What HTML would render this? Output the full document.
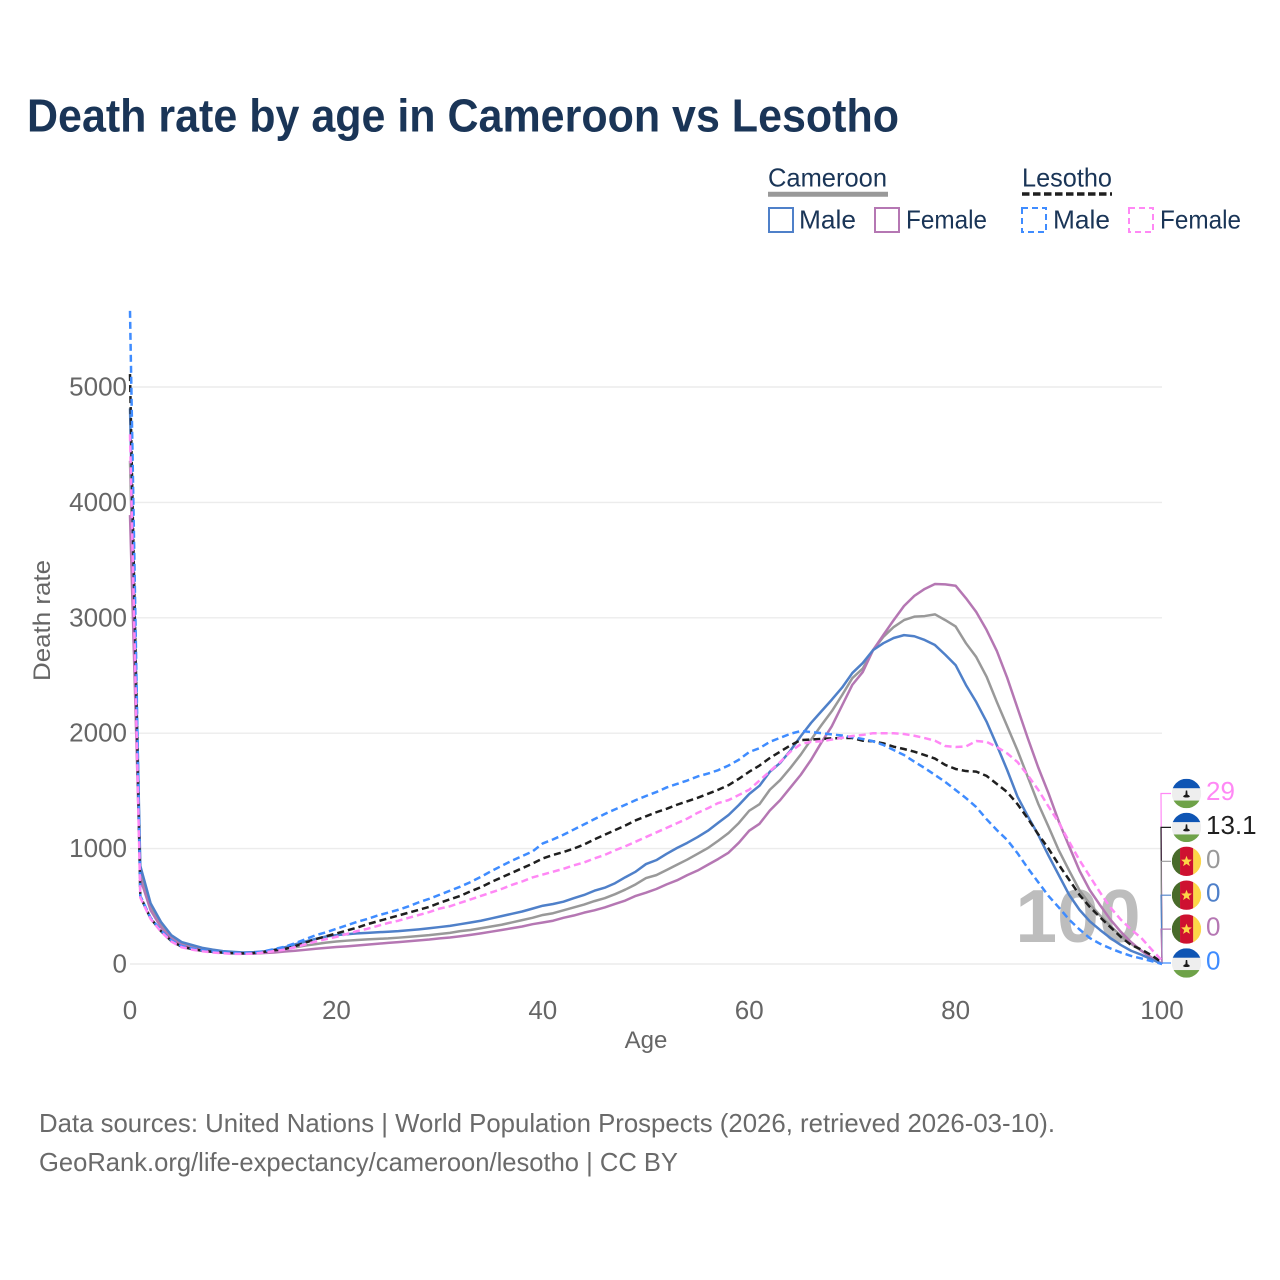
<!DOCTYPE html>
<html lang="en">
<head>
<meta charset="utf-8">
<title>Death rate by age in Cameroon vs Lesotho</title>
<style>
html,body{margin:0;padding:0;background:#fff;}
svg{display:block;font-family:"Liberation Sans",sans-serif;}
</style>
</head>
<body>
<svg id="chart" xmlns="http://www.w3.org/2000/svg" width="1280" height="1280" viewBox="0 0 1280 1280">
  <rect x="0" y="0" width="1280" height="1280" fill="#fff"/>
  <text x="27" y="131.5" font-size="46" font-weight="700" fill="#1a3557" textLength="872" lengthAdjust="spacingAndGlyphs">Death rate by age in Cameroon vs Lesotho</text>

  <g font-size="26" fill="#1a3557">
    <text x="768" y="186.5" textLength="119" lengthAdjust="spacingAndGlyphs">Cameroon</text>
    <line x1="768" y1="194.2" x2="888" y2="194.2" stroke="#999" stroke-width="5"/>
    <text x="1022" y="186.5" textLength="90" lengthAdjust="spacingAndGlyphs">Lesotho</text>
    <line x1="1022" y1="194" x2="1112" y2="194" stroke="#1f1f1f" stroke-width="3.6" stroke-dasharray="7.5 3.5"/>
    <rect x="769" y="208" width="24" height="24" fill="none" stroke="#4f80c9" stroke-width="2"/>
    <text x="799" y="228.5" textLength="57" lengthAdjust="spacingAndGlyphs">Male</text>
    <rect x="875" y="208" width="24" height="24" fill="none" stroke="#b577b3" stroke-width="2"/>
    <text x="906" y="228.5" textLength="81" lengthAdjust="spacingAndGlyphs">Female</text>
    <rect x="1022" y="208" width="24" height="24" fill="none" stroke="#3f8cff" stroke-width="2" stroke-dasharray="6 4"/>
    <text x="1053" y="228.5" textLength="57" lengthAdjust="spacingAndGlyphs">Male</text>
    <rect x="1129" y="208" width="24" height="24" fill="none" stroke="#ff88f5" stroke-width="2" stroke-dasharray="6 4"/>
    <text x="1160" y="228.5" textLength="81" lengthAdjust="spacingAndGlyphs">Female</text>
  </g>

  <g id="grid"></g>
  <g id="yticks" font-size="26" fill="#666"></g>
  <g id="xticks" font-size="26" fill="#666"></g>
  <text transform="translate(50,681) rotate(-90)" font-size="24" fill="#666" textLength="121" lengthAdjust="spacingAndGlyphs">Death rate</text>
  <text x="646" y="1048" font-size="24" fill="#666" text-anchor="middle">Age</text>

  <text id="age-readout" x="1078" y="942" font-size="75" font-weight="700" fill="#bdbdbd" text-anchor="middle"></text>
  <g id="connectors" fill="none" stroke-width="1.2"></g>
  <g id="series" fill="none" stroke-width="2.5" stroke-linejoin="round"></g>
  <g id="endlabels"></g>

  <text x="39" y="1132" font-size="26" fill="#6a6a6a" textLength="1016" lengthAdjust="spacingAndGlyphs">Data sources: United Nations | World Population Prospects (2026, retrieved 2026-03-10).</text>
  <text x="39" y="1171" font-size="26" fill="#6a6a6a" textLength="639" lengthAdjust="spacingAndGlyphs">GeoRank.org/life-expectancy/cameroon/lesotho | CC BY</text>
</svg>

<script>
const ages = [
  0,1,2,3,4,5,6,7,8,9,
  10,11,12,13,14,15,16,17,18,19,
  20,21,22,23,24,25,26,27,28,29,
  30,31,32,33,34,35,36,37,38,39,
  40,41,42,43,44,45,46,47,48,49,
  50,51,52,53,54,55,56,57,58,59,
  60,61,62,63,64,65,66,67,68,69,
  70,71,72,73,74,75,76,77,78,79,
  80,81,82,83,84,85,86,87,88,89,
  90,91,92,93,94,95,96,97,98,99,100
];
const cameroonBoth = [
  4360,800,490,340,235,180,150,130,115,105,
  98,95,98,105,118,130,145,160,172,185,
  195,202,208,213,218,222,228,235,243,250,
  260,270,285,295,310,325,340,360,380,400,
  425,440,465,490,515,545,570,605,645,690,
  745,770,815,860,905,955,1005,1068,1135,1222,
  1328,1385,1510,1594,1700,1815,1945,2070,2190,2330,
  2478,2560,2720,2835,2920,2980,3010,3015,3030,2980,
  2925,2780,2660,2490,2270,2060,1850,1620,1390,1190,
  985,810,640,520,420,330,245,175,115,55,0
];
const cameroonMale = [
  4815,850,525,365,250,190,165,140,125,112,
  105,100,103,110,125,145,170,195,218,238,
  250,258,265,270,275,280,285,292,300,310,
  320,330,345,360,375,395,415,435,455,480,
  505,520,540,570,598,635,661,700,752,800,
  866,900,955,1005,1050,1100,1155,1224,1291,1378,
  1473,1545,1666,1742,1850,1975,2090,2190,2290,2395,
  2522,2608,2720,2780,2825,2850,2840,2808,2764,2680,
  2590,2418,2270,2100,1895,1680,1450,1280,1120,940,
  770,600,470,370,295,225,165,115,80,40,0
];
const cameroonFemale = [
  3890,740,465,320,220,165,140,120,108,100,
  93,90,90,95,100,108,115,123,132,140,
  147,153,160,168,175,183,190,197,205,212,
  222,230,240,252,265,280,295,310,325,345,
  360,375,400,420,445,465,490,520,550,590,
  618,650,690,725,770,810,860,910,965,1051,
  1155,1215,1330,1420,1530,1640,1770,1920,2060,2240,
  2420,2530,2720,2851,2980,3102,3190,3250,3293,3290,
  3278,3170,3050,2895,2712,2480,2217,1955,1705,1480,
  1235,1020,810,640,510,385,280,190,115,55,0
];
const lesothoMale = [
  5660,590,400,290,205,155,135,118,108,100,
  95,93,97,110,130,150,180,215,250,275,
  305,335,365,390,420,445,470,500,535,565,
  600,635,670,710,755,805,850,895,935,975,
  1045,1080,1120,1165,1210,1255,1300,1340,1380,1420,
  1456,1490,1530,1560,1590,1625,1650,1680,1720,1770,
  1837,1870,1925,1960,1995,2019,2010,2000,1990,1980,
  1965,1950,1930,1898,1854,1811,1753,1698,1638,1577,
  1508,1438,1360,1255,1160,1075,960,830,710,590,
  490,385,300,225,175,135,100,70,48,25,0
];
const lesothoBoth = [
  5112,585,395,285,200,150,130,115,105,98,
  93,92,95,105,120,130,155,185,215,240,
  265,290,315,345,370,395,420,445,470,495,
  530,560,590,630,665,710,750,790,830,870,
  915,945,970,1000,1035,1080,1120,1160,1200,1245,
  1280,1315,1345,1380,1410,1440,1475,1510,1550,1605,
  1666,1720,1785,1840,1895,1941,1945,1950,1955,1958,
  1958,1935,1930,1912,1883,1863,1840,1811,1780,1725,
  1690,1672,1667,1630,1560,1490,1385,1260,1125,1000,
  860,730,600,495,405,320,235,165,125,75,13.1
];
const lesothoFemale = [
  4590,575,390,280,195,145,125,110,100,93,
  88,87,90,100,112,125,145,170,195,215,
  235,260,285,305,330,355,375,400,425,450,
  480,500,530,560,590,620,650,685,715,750,
  775,800,825,855,880,915,945,985,1020,1060,
  1100,1140,1180,1220,1260,1310,1350,1395,1420,1465,
  1510,1590,1670,1750,1840,1906,1925,1930,1945,1960,
  1976,1985,2000,2000,2000,1993,1978,1958,1935,1889,
  1880,1885,1932,1925,1880,1825,1750,1635,1510,1365,
  1225,1060,900,760,620,490,385,300,225,125,29
];
const yTickLabels = [0,1000,2000,3000,4000,5000];
const xTickLabels = [0,20,40,60,80,100];

const NS = 'http://www.w3.org/2000/svg';
const xAt = function (age) { return 130 + age * 10.32; };
const yAt = function (rate) { return 964 - rate * 0.1154; };
const make = function (tag, parent) {
  const node = document.createElementNS(NS, tag);
  parent.appendChild(node);
  return node;
};

const gridGroup = document.getElementById('grid');
const yTickGroup = document.getElementById('yticks');
yTickLabels.forEach(function (tick) {
  const gridLine = make('line', gridGroup);
  
  
  gridLine.setAttribute('x1', 130);
  gridLine.setAttribute('x2', 1162);
  gridLine.setAttribute('y1', yAt(tick));
  gridLine.setAttribute('y2', yAt(tick));
  gridLine.setAttribute('stroke', '#ececec');
  gridLine.setAttribute('stroke-width', 1.4);
  const label = make('text', yTickGroup);
  
  
  label.setAttribute('x', 127);
  label.setAttribute('y', yAt(tick) + 8.5);
  label.setAttribute('text-anchor', 'end');
  label.textContent = tick;
});

const xTickGroup = document.getElementById('xticks');
xTickLabels.forEach(function (tick) {
  const label = make('text', xTickGroup);
  
  
  label.setAttribute('x', xAt(tick));
  label.setAttribute('y', 1019);
  label.setAttribute('text-anchor', 'middle');
  label.textContent = tick;
});

document.getElementById('age-readout').textContent = ages[ages.length - 1];

const seriesGroup = document.getElementById('series');
const drawSeries = function (name, values, color, dash) {
  const path = make('path', seriesGroup);
  
  
  path.setAttribute('d', values.map(function (v, i) {
    return (i ? 'L' : 'M') + xAt(ages[i]).toFixed(2) + ' ' + yAt(v).toFixed(2);
  }).join(' '));
  path.setAttribute('stroke', color);
  if (dash) { path.setAttribute('stroke-dasharray', dash); }
};
drawSeries('line-cameroon-both', cameroonBoth, '#999999', '');
drawSeries('line-cameroon-female', cameroonFemale, '#b577b3', '');
drawSeries('line-cameroon-male', cameroonMale, '#4f80c9', '');
drawSeries('line-lesotho-both', lesothoBoth, '#1f1f1f', '7 4');
drawSeries('line-lesotho-male', lesothoMale, '#3f8cff', '7 4');
drawSeries('line-lesotho-female', lesothoFemale, '#ff88f5', '7 4');

const connectorGroup = document.getElementById('connectors');
const endGroup = document.getElementById('endlabels');
const defs = make('defs', endGroup);
const clip = make('clipPath', defs);
clip.setAttribute('id', 'flag-clip');
clip.setAttribute('clipPathUnits', 'objectBoundingBox');
const clipCircle = make('circle', clip);
clipCircle.setAttribute('cx', 0.5);
clipCircle.setAttribute('cy', 0.5);
clipCircle.setAttribute('r', 0.5);

const fillRect = function (parent, x, y, w, h, color) {
  const r = make('rect', parent);
  r.setAttribute('x', x);
  r.setAttribute('y', y);
  r.setAttribute('width', w);
  r.setAttribute('height', h);
  r.setAttribute('fill', color);
  return r;
};
const drawFlag = function (country, cy) {
  const cx = 1186.5;
  const r = 14.7;
  const flag = make('g', endGroup);
  
  
  flag.setAttribute('clip-path', 'url(#flag-clip)');
  fillRect(flag, cx - r, cy - r, 2 * r, 2 * r, '#eeeeee');
  if (country === 'lesotho') {
    fillRect(flag, cx - r, cy - r, 2 * r, 2 * r * 0.32, '#0f55b4');
    fillRect(flag, cx - r, cy + r * 0.48, 2 * r, r * 0.52, '#6ea248');
    const hat = make('path', flag);
    hat.setAttribute('d', 'M' + (cx - 0.7) + ' ' + (cy - 3) + 'h1.4l0.4 4.2c1.6 0.5 2.2 1.2 2.2 1.8 0 0.7-1.6 1-3.3 1s-3.3-0.3-3.3-1c0-0.6 0.6-1.3 2.2-1.8z');
    hat.setAttribute('fill', '#1a1a1a');
  } else {
    fillRect(flag, cx - r, cy - r, r * 0.56, 2 * r, '#486b2a');
    fillRect(flag, cx - r * 0.44, cy - r, r * 0.9, 2 * r, '#ce1130');
    fillRect(flag, cx + r * 0.46, cy - r, r * 0.54, 2 * r, '#fdd648');
    const star = make('path', flag);
    star.setAttribute('d', 'M' + cx + ' ' + (cy - 5.5) + 'l1.4 3.7 4 .2-3.1 2.5 1.1 3.9-3.4-2.2-3.4 2.2 1.1-3.9-3.1-2.5 4-.2z');
    star.setAttribute('fill', '#fdd648');
  }
};

const endEntries = [
  ['lesotho', 'female', lesothoFemale, '#ff88f5'],
  ['lesotho', 'both', lesothoBoth, '#1f1f1f'],
  ['cameroon', 'both', cameroonBoth, '#999999'],
  ['cameroon', 'male', cameroonMale, '#4f80c9'],
  ['cameroon', 'female', cameroonFemale, '#b577b3'],
  ['lesotho', 'male', lesothoMale, '#3f8cff']
];
endEntries.forEach(function (entry, i) {
  const labelY = 793.5 + i * 33.9;
  const last = entry[2][entry[2].length - 1];
  const connector = make('path', connectorGroup);
  
  
  connector.setAttribute('d', 'M' + xAt(ages[ages.length - 1]) + ' ' + yAt(last) + ' L1161 ' + labelY + ' L1171 ' + labelY);
  connector.setAttribute('stroke', entry[3]);
  drawFlag(entry[0], labelY);
  const label = make('text', endGroup);
  
  
  label.setAttribute('x', 1206);
  label.setAttribute('y', labelY + 6.5);
  label.setAttribute('font-size', 26);
  label.setAttribute('fill', entry[3]);
  label.textContent = last;
});
</script>
</body>
</html>
